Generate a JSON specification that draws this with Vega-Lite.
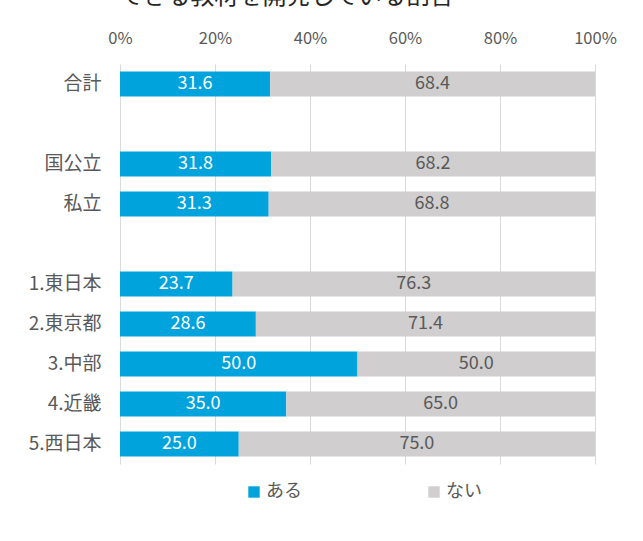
{
  "$schema": "https://vega.github.io/schema/vega-lite/v6.json",
  "autosize": {"type": "none"},
  "width": 475,
  "height": 400,
  "padding": {"left": 120, "top": 64, "right": 48, "bottom": 77},
  "background": "white",
  "title": {
    "text": "できる教材を開発している割合",
    "orient": "top",
    "anchor": "start",
    "frame": "group",
    "dx": -1,
    "offset": 21,
    "font": "Noto Sans CJK JP",
    "fontSize": 24,
    "fontWeight": "normal",
    "color": "#262626"
  },
  "data": {
    "values": [
      {"cat": "合計", "s": "ある", "o": 1, "v": 31.6},
      {"cat": "合計", "s": "ない", "o": 2, "v": 68.4},
      {"cat": "国公立", "s": "ある", "o": 1, "v": 31.8},
      {"cat": "国公立", "s": "ない", "o": 2, "v": 68.2},
      {"cat": "私立", "s": "ある", "o": 1, "v": 31.3},
      {"cat": "私立", "s": "ない", "o": 2, "v": 68.8},
      {"cat": "1.東日本", "s": "ある", "o": 1, "v": 23.7},
      {"cat": "1.東日本", "s": "ない", "o": 2, "v": 76.3},
      {"cat": "2.東京都", "s": "ある", "o": 1, "v": 28.6},
      {"cat": "2.東京都", "s": "ない", "o": 2, "v": 71.4},
      {"cat": "3.中部", "s": "ある", "o": 1, "v": 50.0},
      {"cat": "3.中部", "s": "ない", "o": 2, "v": 50.0},
      {"cat": "4.近畿", "s": "ある", "o": 1, "v": 35.0},
      {"cat": "4.近畿", "s": "ない", "o": 2, "v": 65.0},
      {"cat": "5.西日本", "s": "ある", "o": 1, "v": 25.0},
      {"cat": "5.西日本", "s": "ない", "o": 2, "v": 75.0}
    ]
  },
  "encoding": {
    "y": {
      "field": "cat",
      "type": "nominal",
      "title": null,
      "scale": {
        "domain": ["合計", "_a", "国公立", "私立", "_b", "1.東日本", "2.東京都", "3.中部", "4.近畿", "5.西日本"],
        "paddingInner": 0.375,
        "paddingOuter": 0.1875
      },
      "axis": {
        "domain": false,
        "ticks": false,
        "grid": false,
        "labelExpr": "indexof(datum.value, '_') === 0 ? '' : datum.value",
        "labelFont": "Noto Sans CJK JP",
        "labelFontSize": 19,
        "labelColor": "#595959",
        "labelPadding": 19
      }
    },
    "x": {
      "field": "v",
      "type": "quantitative",
      "stack": "zero",
      "title": null,
      "scale": {"domain": [0, 100], "nice": false},
      "axis": {
        "orient": "top",
        "values": [0, 20, 40, 60, 80, 100],
        "labelExpr": "datum.value + '%'",
        "labelFlush": false,
        "labelOverlap": false,
        "domain": false,
        "ticks": false,
        "grid": true,
        "gridColor": "#D9D9D9",
        "gridWidth": 1,
        "labelFont": "Noto Sans CJK JP",
        "labelFontSize": 16.5,
        "labelColor": "#595959",
        "labelPadding": 18
      }
    },
    "order": {"field": "o", "type": "quantitative"}
  },
  "layer": [
    {
      "mark": {"type": "bar"},
      "encoding": {
        "color": {
          "field": "s",
          "type": "nominal",
          "title": null,
          "scale": {"domain": ["ある", "ない"], "range": ["#00A3DC", "#D0CECE"]},
          "legend": {
            "orient": "none",
            "direction": "horizontal",
            "legendX": 125,
            "legendY": 419,
            "symbolType": "square",
            "symbolSize": 130,
            "symbolStrokeWidth": 0,
            "labelFont": "Noto Sans CJK JP",
            "labelFontSize": 18,
            "labelColor": "#595959",
            "labelOffset": 3,
            "columnPadding": 123
          }
        }
      }
    },
    {
      "mark": {"type": "text", "font": "Noto Sans CJK JP", "fontSize": 18},
      "encoding": {
        "x": {"field": "v", "type": "quantitative", "stack": "zero", "bandPosition": 0.5},
        "text": {"field": "v", "type": "quantitative", "format": ".1f"},
        "color": {
          "condition": {"test": "datum.s === 'ある'", "value": "#FFFFFF"},
          "value": "#595959"
        }
      }
    }
  ],
  "config": {
    "view": {"stroke": null}
  }
}
